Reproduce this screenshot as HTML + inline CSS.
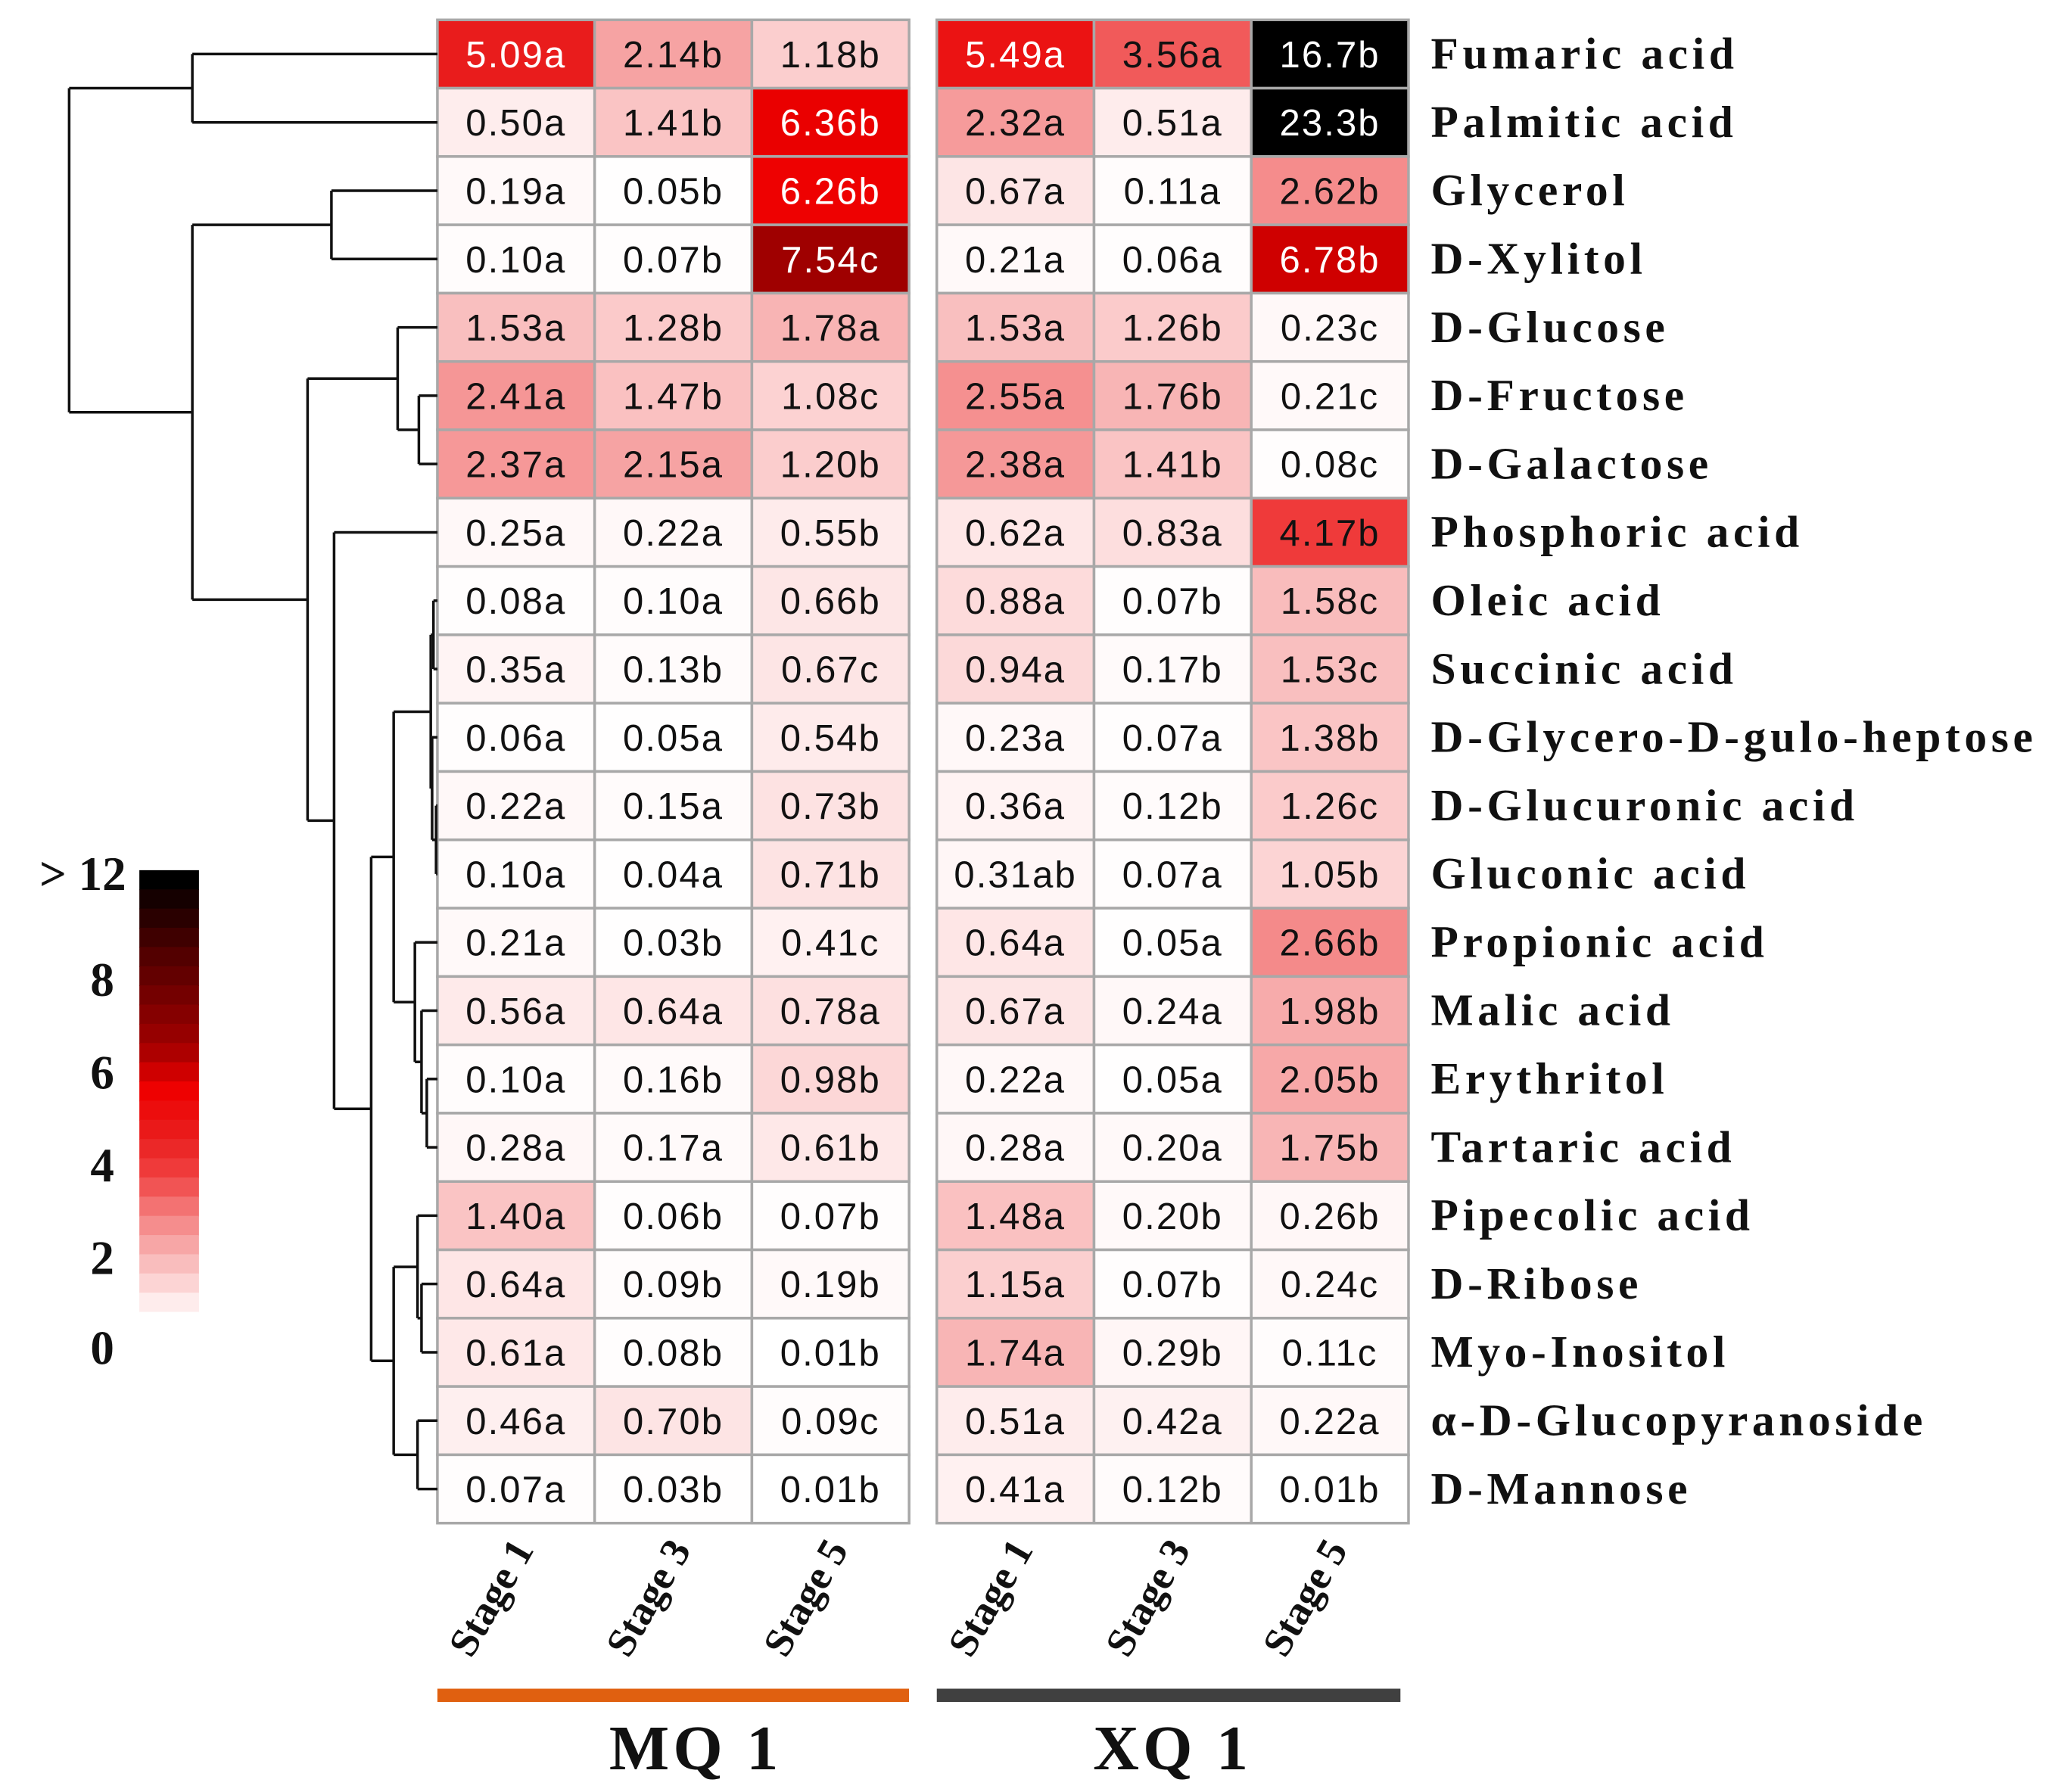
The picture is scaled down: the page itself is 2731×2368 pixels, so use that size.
<!DOCTYPE html>
<html><head><meta charset="utf-8"><style>
html,body{margin:0;padding:0;background:#fff;width:2731px;height:2368px;overflow:hidden}
svg{display:block}
</style></head><body>
<svg id="chart" width="2731" height="2368" viewBox="0 0 1560 1353" xmlns="http://www.w3.org/2000/svg">
<g id="g"></g>
</svg>
<script>
const compounds=["Fumaric acid","Palmitic acid","Glycerol","D-Xylitol","D-Glucose","D-Fructose","D-Galactose","Phosphoric acid","Oleic acid","Succinic acid","D-Glycero-D-gulo-heptose","D-Glucuronic acid","Gluconic acid","Propionic acid","Malic acid","Erythritol","Tartaric acid","Pipecolic acid","D-Ribose","Myo-Inositol","α-D-Glucopyranoside","D-Mannose"];
const stages=["Stage 1","Stage 3","Stage 5"];
const groups=["MQ 1","XQ 1"];
const mqValues=[[5.09,2.14,1.18],[0.50,1.41,6.36],[0.19,0.05,6.26],[0.10,0.07,7.54],[1.53,1.28,1.78],[2.41,1.47,1.08],[2.37,2.15,1.20],[0.25,0.22,0.55],[0.08,0.10,0.66],[0.35,0.13,0.67],[0.06,0.05,0.54],[0.22,0.15,0.73],[0.10,0.04,0.71],[0.21,0.03,0.41],[0.56,0.64,0.78],[0.10,0.16,0.98],[0.28,0.17,0.61],[1.40,0.06,0.07],[0.64,0.09,0.19],[0.61,0.08,0.01],[0.46,0.70,0.09],[0.07,0.03,0.01]];
const mqLetters=[["a","b","b"],["a","b","b"],["a","b","b"],["a","b","c"],["a","b","a"],["a","b","c"],["a","a","b"],["a","a","b"],["a","a","b"],["a","b","c"],["a","a","b"],["a","a","b"],["a","a","b"],["a","b","c"],["a","a","a"],["a","b","b"],["a","a","b"],["a","b","b"],["a","b","b"],["a","b","b"],["a","b","c"],["a","b","b"]];
const xqValues=[[5.49,3.56,16.7],[2.32,0.51,23.3],[0.67,0.11,2.62],[0.21,0.06,6.78],[1.53,1.26,0.23],[2.55,1.76,0.21],[2.38,1.41,0.08],[0.62,0.83,4.17],[0.88,0.07,1.58],[0.94,0.17,1.53],[0.23,0.07,1.38],[0.36,0.12,1.26],[0.31,0.07,1.05],[0.64,0.05,2.66],[0.67,0.24,1.98],[0.22,0.05,2.05],[0.28,0.20,1.75],[1.48,0.20,0.26],[1.15,0.07,0.24],[1.74,0.29,0.11],[0.51,0.42,0.22],[0.41,0.12,0.01]];
const xqLetters=[["a","a","b"],["a","a","b"],["a","a","b"],["a","a","b"],["a","b","c"],["a","b","c"],["a","b","c"],["a","a","b"],["a","b","c"],["a","b","c"],["a","a","b"],["a","b","c"],["ab","a","b"],["a","a","b"],["a","a","b"],["a","a","b"],["a","a","b"],["a","b","b"],["a","b","c"],["a","b","c"],["a","a","a"],["a","b","b"]];
const legendTicks=["> 12","8","6","4","2","0"];

const NS="http://www.w3.org/2000/svg";
const g=document.getElementById('g');
function el(t,a,p){const e=document.createElementNS(NS,t);for(const k in a)e.setAttribute(k,a[k]);(p||g).appendChild(e);return e;}
const stops=[[0,[255,255,255]],[0.3,[255,246,246]],[1,[252,214,214]],[2,[247,170,170]],[3,[243,122,122]],[4,[240,64,64]],[5,[233,30,30]],[6.3,[238,0,0]],[7.5,[160,0,0]],[10,[80,0,0]],[12,[0,0,0]]];
function color(v){v=Math.min(v,12);for(let i=1;i<stops.length;i++){if(v<=stops[i][0]){const a=stops[i-1],b=stops[i],t=(v-a[0])/(b[0]-a[0]);return 'rgb('+a[1].map((c,j)=>Math.round(c+(b[1][j]-c)*t)).join(',')+')';}}return '#000';}
const top0=15,rowH=(1150-15)/22,colW=118.7;
const gridX=[330,707];
function yRow(i){return top0+rowH*(i+0.5);}
const sets=[[mqValues,mqLetters],[xqValues,xqLetters]];
sets.forEach((s,gi)=>{
  for(let r=0;r<compounds.length;r++)for(let c=0;c<3;c++){
    const v=s[0][r][c],x=gridX[gi]+c*colW,y=top0+r*rowH;
    const rc=el('rect',{x:x,y:y,width:colW,height:rowH,fill:color(v),stroke:'#a8a8a8','stroke-width':2});
    
    
    const t=el('text',{x:x+colW/2,y:y+rowH/2+10,'text-anchor':'middle','font-family':'Liberation Sans, sans-serif','font-size':28,'letter-spacing':1.2,fill:v>5?'#fff':'#111'});
    t.textContent=(v>=10?v.toFixed(1):v.toFixed(2))+s[1][r][c];
    
    
  }
  stages.forEach((st,c)=>{
    const cx=gridX[gi]+c*colW+colW/2+14;
    const t=el('text',{x:cx,y:1170,'text-anchor':'end','font-family':'Liberation Serif, serif','font-weight':'bold','font-size':31,transform:'rotate(-60 '+cx+' 1170)',fill:'#111'});
    t.textContent=st;
    
    
  });
  const bar=el('rect',{x:gridX[gi],y:1275,width:gi?350:356,height:10,fill:gi?'#404040':'#e06010'});
  
  
  const gt=el('text',{x:gridX[gi]+(gi?178:195),y:1336,'text-anchor':'middle','font-family':'Liberation Serif, serif','font-weight':'bold','font-size':48,'letter-spacing':3,fill:'#111'});
  gt.textContent=groups[gi];
  
  
});
compounds.forEach((n,i)=>{
  const t=el('text',{x:1080,y:yRow(i)+11,'font-family':'Liberation Serif, "Noto Serif CJK SC", serif','font-weight':'bold','font-size':34,'letter-spacing':3.2,fill:'#111'});
  t.textContent=n;
  
  
});
const tree={h:52,c:[{h:145,c:[0,1]},{h:145,c:[{h:250,c:[2,3]},{h:232,c:[{h:300,c:[4,{h:316,c:[5,6]}]},{h:252,c:[7,{h:280,c:[{h:297,c:[{h:325,c:[{h:327,c:[8,9]},{h:326,c:[10,{h:329,c:[11,12]}]}]},{h:313,c:[13,{h:318,c:[14,{h:322,c:[15,16]}]}]}]},{h:297,c:[{h:315,c:[17,{h:318,c:[18,19]}]},{h:315,c:[20,21]}]}]}]}]}]}]};
const dg=el('g',{stroke:'#111','stroke-width':2,fill:'none'});


function draw(n){
  if(typeof n==='number')return [yRow(n),330];
  const pts=n.c.map(draw);
  pts.forEach(p=>el('line',{x1:n.h,y1:p[0],x2:p[1],y2:p[0]},dg));
  el('line',{x1:n.h,y1:pts[0][0],x2:n.h,y2:pts[pts.length-1][0]},dg);
  return [(pts[0][0]+pts[pts.length-1][0])/2,n.h];
}
draw(tree);
const nb=24,by0=657,by1=1005;
for(let i=0;i<nb;i++){
  const v=12*(nb-1-i)/(nb-1);
  const r=el('rect',{x:105,y:by0+i*(by1-by0)/nb,width:45,height:(by1-by0)/nb+0.5,fill:color(v)});
  
  
}
const tickY=[672,752,822,892,962,1030];
legendTicks.forEach((t,i)=>{
  const tx=el('text',{x:t.length>1?95:86,y:tickY[i],'text-anchor':'end','font-family':'Liberation Serif, serif','font-weight':'bold','font-size':36,fill:'#111'});
  tx.textContent=t;
  
  
});
</script>
</body></html>
